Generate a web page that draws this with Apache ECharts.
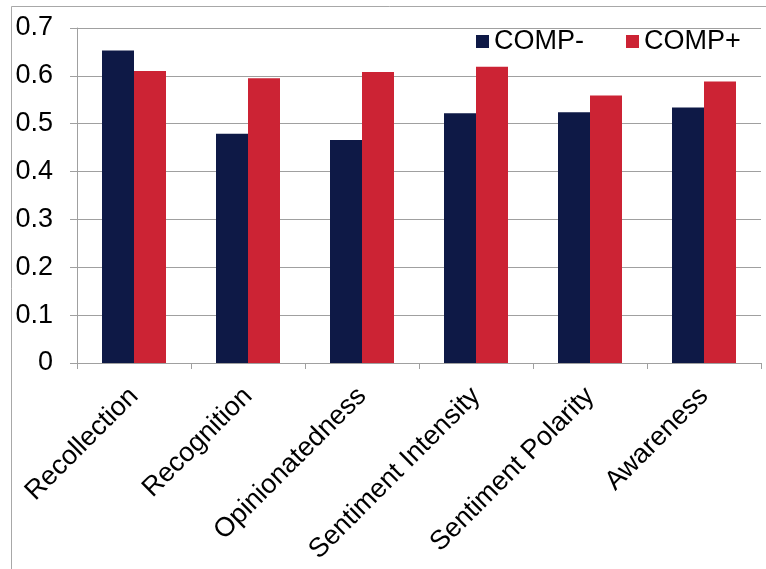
<!DOCTYPE html>
<html>
<head>
<meta charset="utf-8">
<script src="https://cdn.jsdelivr.net/npm/echarts@6/dist/echarts.min.js"></script>
<style>
html,body{margin:0;padding:0;background:#fff;}
#chart{width:766px;height:569px;}
</style>
</head>
<body>
<div id="chart"></div>
<script>
var categories = ['Recollection', 'Recognition', 'Opinionatedness', 'Sentiment Intensity', 'Sentiment Polarity', 'Awareness'];
var compMinus = [0.653, 0.479, 0.466, 0.522, 0.524, 0.534];
var compPlus = [0.610, 0.595, 0.608, 0.619, 0.559, 0.588];
var seriesNames = ['COMP-', 'COMP+'];

var FONT = '"Liberation Sans", Arial, Helvetica, sans-serif';
var chart = echarts.init(document.getElementById('chart'), null, {renderer: 'canvas'});
chart.setOption({
  animation: false,
  backgroundColor: '#ffffff',
  graphic: [{
    type: 'rect',
    shape: {x: 11.5, y: 6.5, width: 800, height: 600},
    style: {fill: 'none', stroke: '#a8a8a8', lineWidth: 1},
    z: -1
  }],
  legend: {
    data: seriesNames,
    left: 476,
    top: 28,
    padding: 0,
    itemWidth: 13,
    itemHeight: 13,
    itemGap: 42,
    icon: 'rect',
    textStyle: {fontFamily: FONT, fontSize: 27, color: '#000'}
  },
  grid: {left: 77, right: 5, top: 28, bottom: 206, containLabel: false},
  xAxis: {
    type: 'category',
    data: categories,
    axisLine: {lineStyle: {color: '#a0a0a0', width: 1}},
    axisTick: {show: true, length: 6, lineStyle: {color: '#a0a0a0'}},
    axisLabel: {rotate: 45, margin: 29, fontFamily: FONT, fontSize: 27, color: '#000', interval: 0}
  },
  yAxis: {
    type: 'value',
    min: 0,
    max: 0.7,
    interval: 0.1,
    axisLine: {show: true, lineStyle: {color: '#a0a0a0', width: 1}},
    axisTick: {show: true, length: 7, lineStyle: {color: '#a0a0a0'}},
    splitLine: {show: true, lineStyle: {color: '#a0a0a0', width: 1}},
    axisLabel: {margin: 24, fontFamily: FONT, fontSize: 27, color: '#000',
      formatter: function (v) { return v === 0 ? '0' : v.toFixed(1); }}
  },
  series: [{
    name: seriesNames[0],
    type: 'bar',
    data: compMinus,
    barWidth: 32,
    barGap: '0%',
    itemStyle: {color: '#0e1946'}
  }, {
    name: seriesNames[1],
    type: 'bar',
    data: compPlus,
    barWidth: 32,
    barGap: '0%',
    itemStyle: {color: '#cc2334'}
  }]
});
</script>
</body>
</html>
